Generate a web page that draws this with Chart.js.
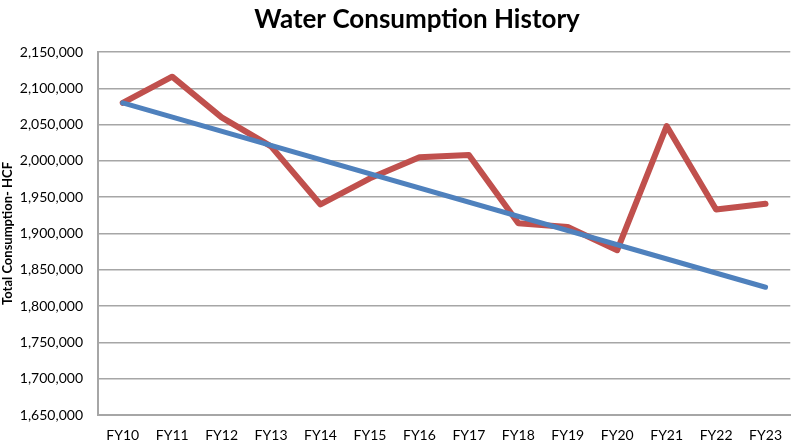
<!DOCTYPE html>
<html>
<head>
<meta charset="utf-8">
<script src="https://cdn.jsdelivr.net/npm/chart.js@4"></script>
<style>
  html, body { margin: 0; padding: 0; background: #ffffff; }
  #wrap { width: 794px; height: 444px; }
</style>
</head>
<body>
<div id="wrap"><canvas id="waterChart" width="794" height="444"></canvas></div>
<script>
// 데이터
const chartTitle = "Water Consumption History";
const yAxisTitle = "Total Consumption- HCF";
const fiscalYears = ["FY10", "FY11", "FY12", "FY13", "FY14", "FY15", "FY16", "FY17", "FY18", "FY19", "FY20", "FY21", "FY22", "FY23"];
const consumption = [2080000, 2116000, 2060000, 2020000, 1940000, 1976000, 2005000, 2008000, 1914000, 1909000, 1877000, 2048000, 1933000, 1941000];
// trend line: only end points, straight line between them
const trend = [2080000, null, null, null, null, null, null, null, null, null, null, null, null, 1826000];
const yMin = 1650000;
const yMax = 2150000;
const yStep = 50000;

const FONT = "Lato, 'Open Sans', sans-serif";

// 제목 (직접 그리기)
const titlePlugin = {
  id: "titleText",
  afterDraw(chart) {
    const c = chart.ctx;
    c.save();
    c.font = "bold 26px " + FONT;
    c.fillStyle = "#000000";
    c.textAlign = "center";
    c.textBaseline = "middle";
    c.fillText(chartTitle, 417, 20);
    c.restore();
  },
};

try {
  const ctx = document.getElementById("waterChart").getContext("2d");
  new Chart(ctx, {
    type: "line",
    data: {
      labels: fiscalYears,
      datasets: [
        {
          label: "Trend",
          data: trend,
          borderColor: "#4F81BD",
          backgroundColor: "#4F81BD",
          borderWidth: 5,
          pointRadius: 0,
          tension: 0,
          spanGaps: true,
          borderCapStyle: "round",
        },
        {
          label: "Total Consumption",
          data: consumption,
          borderColor: "#C0504D",
          backgroundColor: "#C0504D",
          borderWidth: 6,
          pointRadius: 0,
          tension: 0,
          borderCapStyle: "round",
          borderJoinStyle: "round",
        },
      ],
    },
    options: {
      responsive: false,
      animation: false,
      layout: { padding: { top: 52, left: 0, right: 0, bottom: 0 } },
      plugins: {
        legend: { display: false },
        title: { display: false },
        tooltip: { enabled: false },
      },
      scales: {
        x: {
          offset: true,
          grid: { display: false, drawTicks: false },
          border: { display: true, color: "#A6A6A6", width: 2 },
          ticks: {
            color: "#000000",
            font: { family: FONT, size: 14 },
            padding: 12,
            maxRotation: 0,
            autoSkip: false,
          },
          afterFit(scale) { scale.height = 29; },
        },
        y: {
          min: yMin,
          max: yMax,
          grid: { color: "#A6A6A6", lineWidth: 1.5, drawTicks: false },
          border: { display: true, color: "#A6A6A6", width: 2 },
          ticks: {
            stepSize: yStep,
            color: "#000000",
            font: { family: FONT, size: 14 },
            padding: 15,
            callback: (v) => v.toLocaleString("en-US"),
          },
          title: {
            display: true,
            text: yAxisTitle,
            color: "#000000",
            font: { family: FONT, size: 13, weight: "bold" },
            padding: { top: 0, bottom: 0 },
          },
          afterFit(scale) { scale.width = 98; },
        },
      },
    },
    plugins: [titlePlugin],
  });
} catch (e) {
  console.error("차트 생성 중 오류 발생:", e);
}
</script>
</body>
</html>
